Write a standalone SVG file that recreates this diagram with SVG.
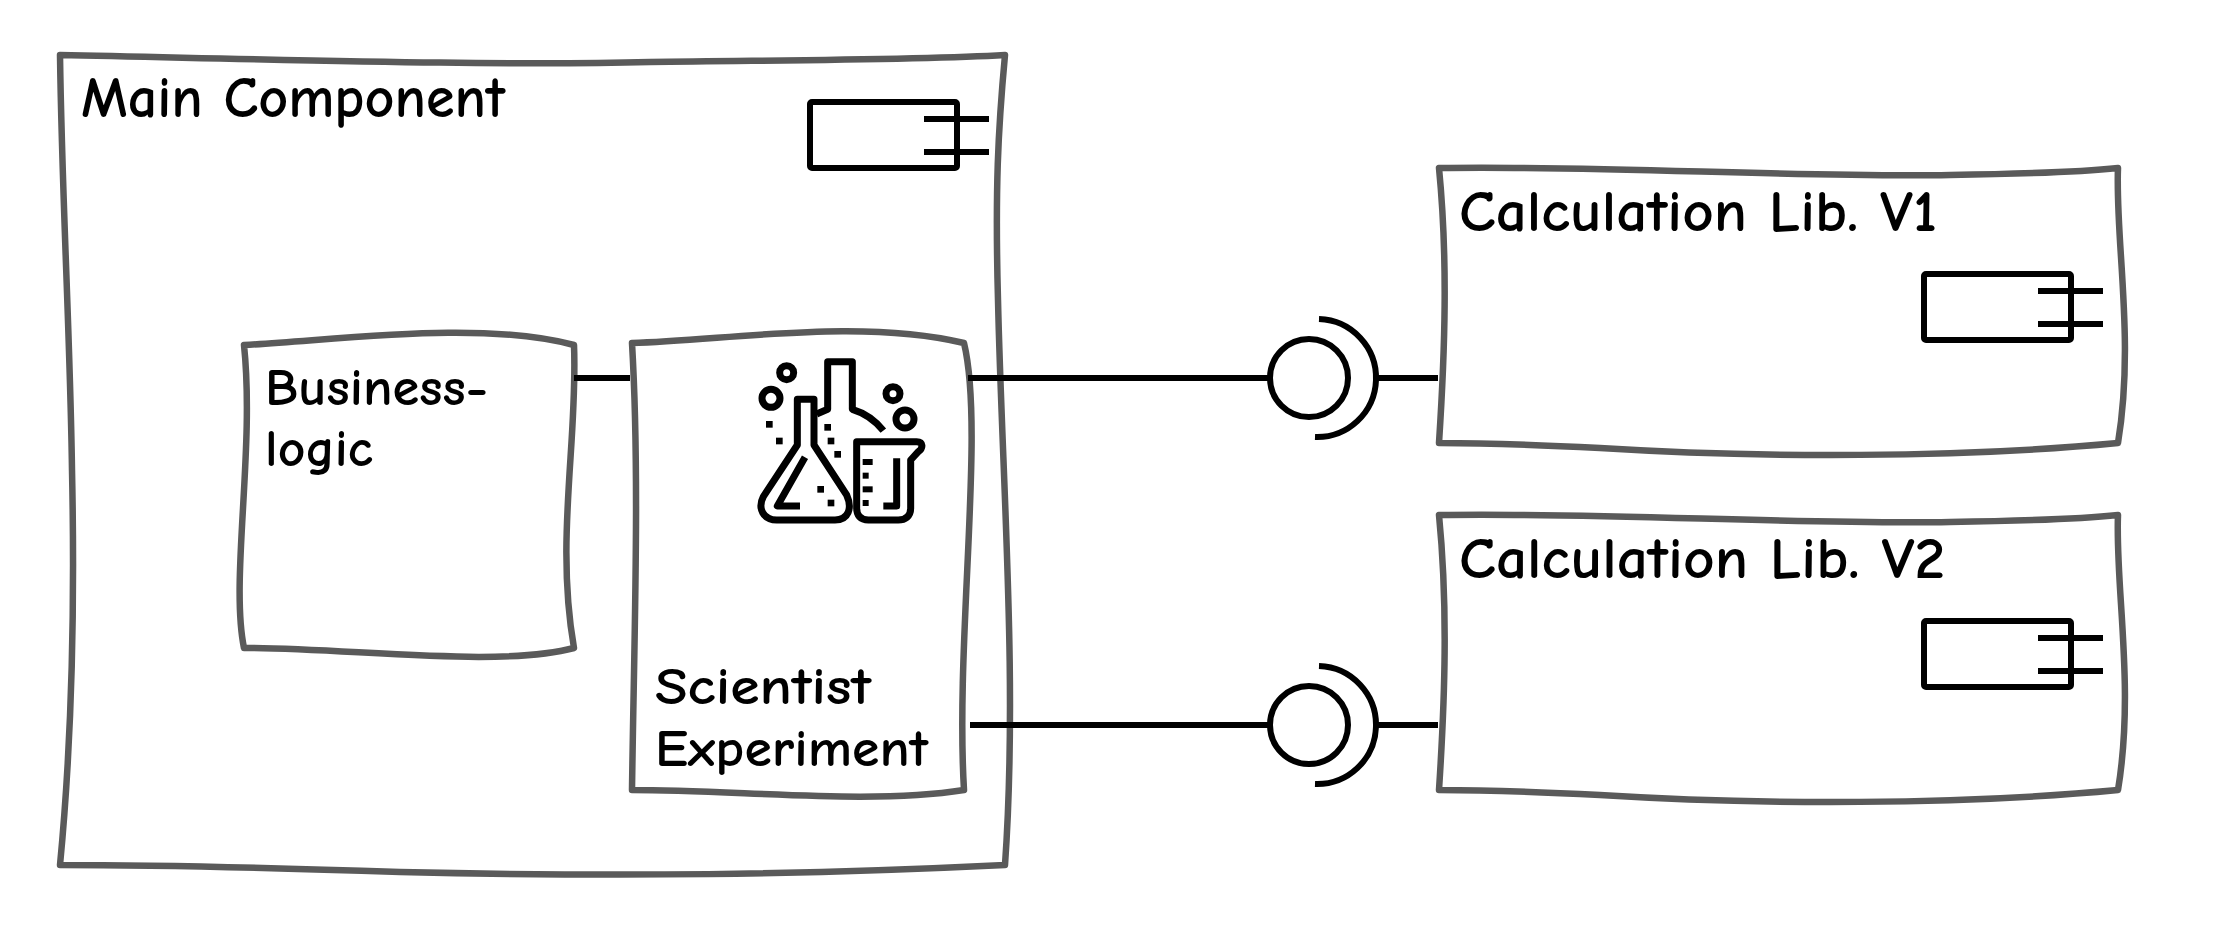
<svg xmlns="http://www.w3.org/2000/svg" width="2238" height="938" viewBox="0 0 2238 938">
<style>
.box{fill:#fff;stroke:#5a5a5a;stroke-width:6.5;stroke-linejoin:round}
.ln{fill:none;stroke:#000;stroke-width:6}
.icon{fill:none;stroke:#000;stroke-width:6;stroke-linejoin:round}
.fl{fill:none;stroke:#000;stroke-width:21;stroke-linejoin:round}
.sq{fill:#000;stroke:none}
text{font-family:"Comic Sans MS","Comic Neue",Lato,"Liberation Sans",sans-serif;fill:#000;font-weight:700}
.t1{font-size:58px}
.t2{font-size:53px}
</style>
<defs>
<g id="comp">
<rect class="icon" x="0" y="0" width="147" height="66" rx="2"/>
<path class="ln" d="M114,17H179M114,50H179"/>
</g>
</defs>
<rect width="2238" height="938" fill="#fff"/>
<g id="main-component">
<path class="box" d="M60,55C300,60 500,66 650,62C800,60 920,60 1005,55C998,130 995,190 998,300C1002,480 1018,680 1005,865C800,875 620,877 400,872C280,868 160,865 60,865C72,740 75,610 72,470C70,330 62,200 60,55Z"/>
<text class="t1" x="81" y="117" textLength="424" lengthAdjust="spacingAndGlyphs">Main Component</text>
<use href="#comp" x="810" y="102"/>
</g>
<g id="business-logic">
<path class="box" d="M244,345C340,340 480,320 574,345C578,440 555,540 574,648C500,668 350,648 244,648C230,580 255,450 244,345Z"/>
<text class="t2" x="265" y="405" textLength="223" lengthAdjust="spacingAndGlyphs">Business-</text>
<text class="t2" x="265" y="466" textLength="108" lengthAdjust="spacingAndGlyphs">logic</text>
</g>
<g id="scientist-experiment">
<path class="box" d="M632,343C730,340 860,318 964,343C985,430 955,640 964,790C870,805 740,790 632,790C634,640 640,480 632,343Z"/>
<text class="t2" x="655" y="704" textLength="216" lengthAdjust="spacingAndGlyphs">Scientist</text>
<text class="t2" x="655" y="766" textLength="273" lengthAdjust="spacingAndGlyphs">Experiment</text>
<g transform="translate(720,320) scale(.33333)">
<circle class="fl" cx="200" cy="158" r="21"/>
<circle class="fl" cx="153" cy="235" r="27"/>
<circle class="fl" cx="519" cy="221" r="21"/>
<circle class="fl" cx="555" cy="297" r="27"/>
<path class="fl" d="M290,282L323,268V125H397V268C430,278 465,300 490,332"/>
<path class="fl" d="M232,238H282V375L380,525C398,565 385,600 345,600H170C130,600 112,565 130,530L232,375Z"/>
<path class="fl" d="M255,412L172,558H240"/>
<path class="fl" d="M410,365H590C610,365 610,385 595,395L572,420V565C572,590 555,600 535,600H445C420,600 410,585 410,565Z"/>
<path class="fl" d="M530,415V558H490"/>
<g class="sq">
<rect x="138" y="303" width="20" height="20"/><rect x="168" y="353" width="20" height="20"/>
<rect x="313" y="312" width="20" height="20"/><rect x="323" y="353" width="20" height="20"/>
<rect x="343" y="393" width="20" height="20"/><rect x="292" y="498" width="20" height="20"/>
<rect x="323" y="539" width="20" height="20"/>
<rect x="428" y="417" width="30" height="18"/><rect x="428" y="458" width="18" height="18"/>
<rect x="428" y="499" width="30" height="18"/><rect x="428" y="540" width="18" height="18"/>
</g>
</g>
</g>
<g id="calculation-lib-v1">
<path class="box" d="M1439,168C1600,165 1800,178 1950,175C2020,174 2080,172 2118,168C2115,240 2135,340 2118,443C1960,458 1760,458 1600,448C1540,445 1480,443 1439,443C1445,350 1448,260 1439,168Z"/>
<text class="t1" x="1459" y="231" textLength="478" lengthAdjust="spacingAndGlyphs">Calculation Lib. V1</text>
<use href="#comp" x="1924" y="274"/>
</g>
<g id="calculation-lib-v2">
<path class="box" d="M1439,515C1600,512 1800,525 1950,522C2020,521 2080,519 2118,515C2115,587 2135,687 2118,790C1960,805 1760,805 1600,795C1540,792 1480,790 1439,790C1445,697 1448,607 1439,515Z"/>
<text class="t1" x="1459" y="578" textLength="486" lengthAdjust="spacingAndGlyphs">Calculation Lib. V2</text>
<use href="#comp" x="1924" y="621"/>
</g>
<g id="connectors">
<path class="ln" d="M574,378H630"/>
<path class="ln" d="M968,378H1270"/>
<circle class="ln" cx="1309" cy="378" r="39"/>
<path class="ln" d="M1319,319A59,59 0 0 1 1315,437"/>
<path class="ln" d="M1376,378H1438"/>
<path class="ln" d="M970,725H1270"/>
<circle class="ln" cx="1309" cy="725" r="39"/>
<path class="ln" d="M1319,666A59,59 0 0 1 1315,784"/>
<path class="ln" d="M1376,725H1438"/>
</g>
</svg>
